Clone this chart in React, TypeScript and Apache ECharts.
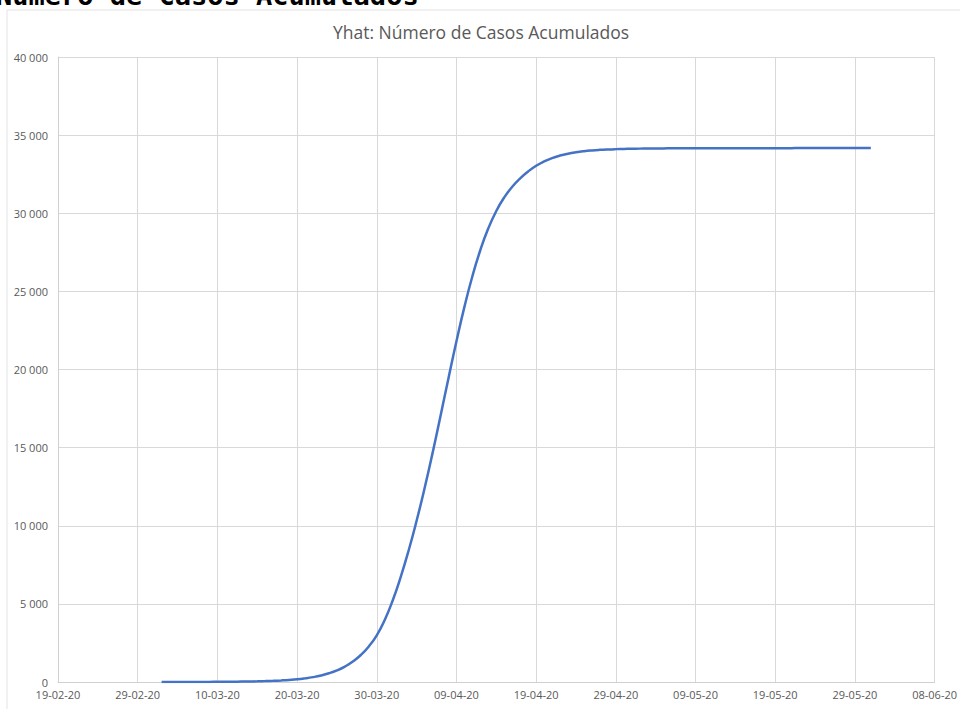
import React, { useEffect, useRef } from "react";
import * as echarts from "echarts";

const pageTitle = "Número de Casos Acumulados";
const chartTitle = "Yhat: Número de Casos Acumulados";

// Axis start date (day 0) and ticks every 10 days
const axisStartUTC = Date.UTC(2020, 1, 19);
const axisMaxDay = 110;
const tickEveryDays = 10;

// Series starts on 03-03-20 (day 13 after 19-02-20), one value per day to 31-05-20
const seriesStartDay = 13;
const yhatValues = [
  2, 2, 3, 4, 5, 6, 8, 11, 14, 19, 25, 33, 44, 58, 76, 100, 130, 170,
  232, 312, 417, 557, 742, 987, 1307, 1727, 2277, 2987,
  3967, 5217, 6717, 8417, 10317, 12397, 14647, 17027, 19447, 21807,
  24007, 25967, 27647, 29037, 30147, 31017, 31697, 32237, 32677, 33037,
  33317, 33532, 33692, 33812, 33902, 33970, 34020, 34057, 34084, 34104,
  34118, 34128, 34136, 34142, 34147, 34151, 34154, 34156, 34158, 34160,
  34161, 34162, 34163, 34164, 34165, 34166, 34166, 34167, 34167, 34168,
  34168, 34168, 34169, 34169, 34169, 34169, 34170, 34170, 34170, 34170,
  34170, 34170,
];

function dayLabel(day: number): string {
  const d = new Date(axisStartUTC + day * 86400000);
  const dd = String(d.getUTCDate()).padStart(2, "0");
  const mm = String(d.getUTCMonth() + 1).padStart(2, "0");
  const yy = String(d.getUTCFullYear() % 100).padStart(2, "0");
  return `${dd}-${mm}-${yy}`;
}

function thousands(v: number): string {
  return String(v).replace(/\B(?=(\d{3})+(?!\d))/g, " ");
}

export default function App() {
  const ref = useRef<HTMLDivElement>(null);
  useEffect(() => {
    if (!ref.current) return;
    const chart = echarts.init(ref.current, undefined, { renderer: "svg" });
    const data = yhatValues.map((v, i) => [seriesStartDay + i, v]);
    const font = "'Open Sans', 'Liberation Sans', sans-serif";
    chart.setOption({
      animation: false,
      backgroundColor: "#ffffff",
      title: {
        text: chartTitle,
        left: 476,
        textAlign: "center",
        top: 18,
        textStyle: {
          color: "#595959",
          fontSize: 17.5,
          fontWeight: "normal",
          fontFamily: font,
        },
      },
      graphic: [
        {
          type: "rect",
          shape: { x: 7, y: 10, width: 1000, height: 800 },
          style: { fill: "none", stroke: "#e3e3e3", lineWidth: 1 },
          silent: true,
        },
        {
          type: "text",
          x: -4,
          y: -18,
          style: {
            text: pageTitle,
            fontFamily: "'DejaVu Sans Mono', monospace",
            fontWeight: "bold",
            fontSize: 27,
            fill: "#000000",
          },
          silent: true,
        },
      ],
      grid: { left: 58, right: 23, top: 57, bottom: 27, containLabel: false },
      xAxis: {
        type: "value",
        min: 0,
        max: axisMaxDay,
        interval: tickEveryDays,
        axisLine: { show: true, lineStyle: { color: "#d0d0d0", width: 1 } },
        axisTick: { show: false },
        splitLine: { show: true, lineStyle: { color: "#d9d9d9", width: 1 } },
        axisLabel: {
          formatter: (v: number) => dayLabel(v),
          color: "#595959",
          fontSize: 11,
          fontFamily: font,
          margin: 7,
        },
      },
      yAxis: {
        type: "value",
        min: 0,
        max: 40000,
        interval: 5000,
        axisLine: { show: true, lineStyle: { color: "#d0d0d0", width: 1 } },
        axisTick: { show: false },
        splitLine: { show: true, lineStyle: { color: "#d9d9d9", width: 1 } },
        axisLabel: {
          formatter: (v: number) => thousands(v),
          color: "#595959",
          fontSize: 11,
          fontFamily: font,
          margin: 10,
        },
      },
      series: [
        {
          type: "line",
          data,
          smooth: true,
          showSymbol: false,
          lineStyle: { color: "#4472C4", width: 2.5 },
        },
      ],
    });
    return () => chart.dispose();
  }, []);
  return (
    <div
      ref={ref}
      style={{ position: "fixed", left: 0, top: 0, width: 960, height: 709 }}
    />
  );
}
